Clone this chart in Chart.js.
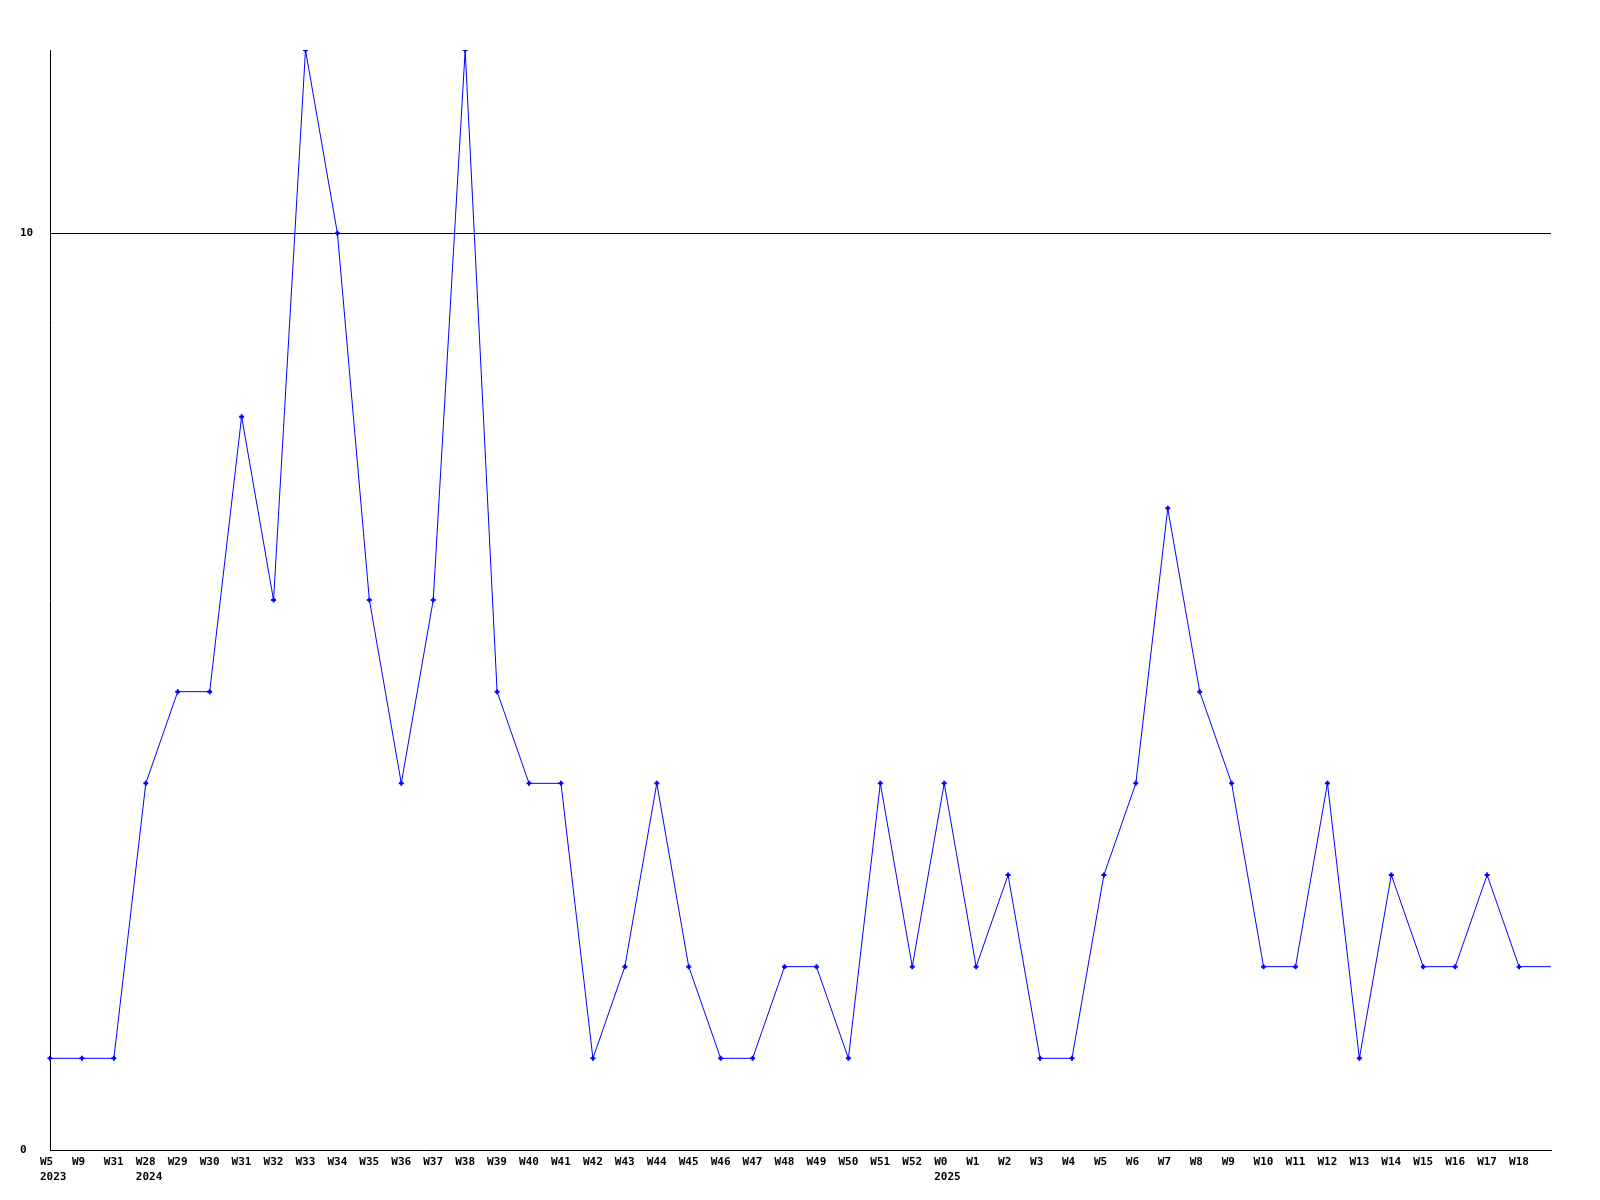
<!DOCTYPE html>
<html>
<head>
<meta charset="utf-8">
<script src="https://cdn.jsdelivr.net/npm/chart.js@4/dist/chart.umd.min.js"></script>
<style>
  body { margin: 0; background: #fff; }
</style>
</head>
<body>
<canvas id="myChart" width="1600" height="1200"></canvas>
<script>
// week labels, second line year, and counts per week
var weeks = ["W5","W9","W31","W28","W29","W30","W31","W32","W33","W34","W35","W36","W37","W38","W39","W40","W41","W42","W43","W44","W45","W46","W47","W48","W49","W50","W51","W52","W0","W1","W2","W3","W4","W5","W6","W7","W8","W9","W10","W11","W12","W13","W14","W15","W16","W17","W18",""];
var years = {0: "2023", 3: "2024", 28: "2025"};
var values = [1,1,1,4,5,5,8,6,12,10,6,4,6,12,5,4,4,1,2,4,2,1,1,2,2,1,4,2,4,2,3,1,1,3,4,7,5,4,2,2,4,1,3,2,2,3,2,2];
var yTicks = [0, 10];

var font = 'bold 11px "DejaVu Sans Mono"';

var textPlugin = {
    id: 'textLabels',
    afterDraw: function(chart){
        var ctx = chart.ctx;
        var xs = chart.scales.x;
        var ys = chart.scales.y;
        ctx.save();
        ctx.font = font;
        ctx.fillStyle = '#000';
        ctx.textAlign = 'left';
        ctx.textBaseline = 'middle';
        for (var i = 0; i < weeks.length; i++) {
            var x = xs.getPixelForValue(i) - 10;
            ctx.fillText(weeks[i], x, xs.bottom + 12);
            if (years[i]) ctx.fillText(years[i], x, xs.bottom + 27);
        }
        for (var j = 0; j < yTicks.length; j++) {
            ctx.fillText(String(yTicks[j]), 20, ys.getPixelForValue(yTicks[j]));
        }
        ctx.restore();
    }
};

var ctx = document.getElementById("myChart");
var chart = new Chart(ctx, {
    type: 'line',
    data: {
        labels: weeks,
        datasets: [{
            data: values,
            borderColor: '#0000ff',
            backgroundColor: '#0000ff',
            borderWidth: 1,
            pointStyle: 'cross',
            pointRadius: values.map(function(v, i){ return i === values.length - 1 ? 0 : 2.5; }),
            pointBorderWidth: 2,
            pointBorderColor: '#0000ff',
            tension: 0,
            fill: false
        }]
    },
    options: {
        responsive: false,
        animation: false,
        layout: { padding: { left: 50, right: 49, top: 50, bottom: 50 } },
        plugins: {
            legend: { display: false },
            tooltip: { enabled: false }
        },
        scales: {
            x: {
                type: 'category',
                offset: false,
                grid: { display: false, drawTicks: false },
                border: { color: '#000', width: 1 },
                ticks: { display: false }
            },
            y: {
                min: 0,
                max: 12,
                afterBuildTicks: function(scale){
                    scale.ticks = yTicks.map(function(v){ return { value: v }; });
                },
                grid: {
                    drawTicks: false,
                    color: function(c){ return c.tick && c.tick.value === 10 ? '#000' : 'rgba(0,0,0,0)'; }
                },
                border: { color: '#000', width: 1 },
                ticks: { display: false }
            }
        }
    },
    plugins: [textPlugin]
});
</script>
</body>
</html>
